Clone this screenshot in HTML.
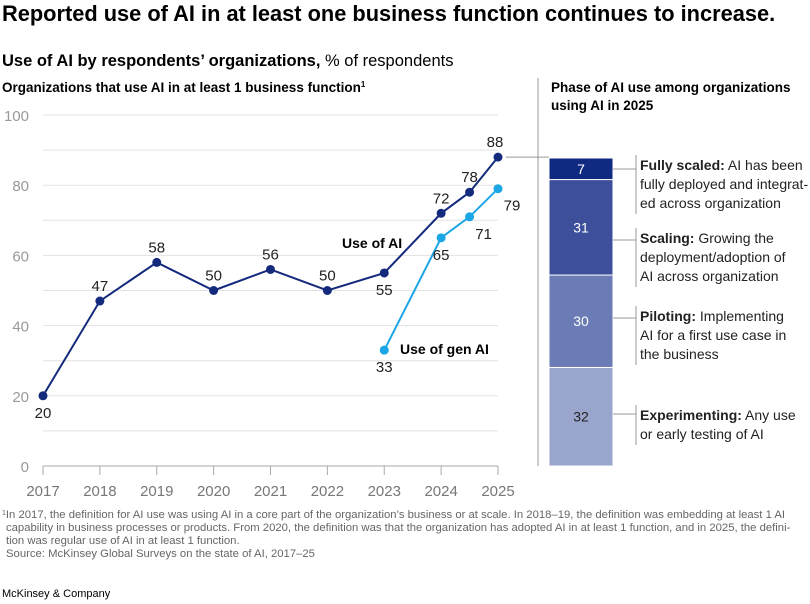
<!DOCTYPE html>
<html><head><meta charset="utf-8"><style>
body{margin:0;background:#fff;font-family:"Liberation Sans",sans-serif;}
svg{display:block}
</style></head><body>
<svg width="810" height="604" xmlns="http://www.w3.org/2000/svg" font-family="Liberation Sans, sans-serif">
<text x="2" y="21" font-size="21.8" font-weight="bold" fill="#000">Reported use of AI in at least one business function continues to increase.</text>
<text x="2" y="66" font-size="16.5" fill="#000"><tspan font-weight="bold">Use of AI by respondents’ organizations,</tspan> % of respondents</text>
<text x="2" y="92" font-size="13.5" font-weight="bold" fill="#000">Organizations that use AI in at least 1 business function<tspan font-size="8" dy="-5">1</tspan></text>
<text x="551" y="92" font-size="13.5" font-weight="bold" fill="#000">Phase of AI use among organizations</text>
<text x="551" y="110" font-size="13.5" font-weight="bold" fill="#000">using AI in 2025</text>
<line x1="538" y1="78" x2="538" y2="466" stroke="#999" stroke-width="1"/>
<g id="grid"></g>
<g id="lines"></g>
<g id="bar"></g>
<text x="342" y="248" font-size="14" font-weight="bold">Use of AI</text>
<text x="400" y="354" font-size="14" font-weight="bold">Use of gen AI</text>
<g font-size="11.3" fill="#666">
<text x="2" y="518"><tspan font-size="7" dy="-3">1</tspan><tspan dy="3">In 2017, the definition for AI use was using AI in a core part of the organization’s business or at scale. In 2018–19, the definition was embedding at least 1 AI</tspan></text>
<text x="6" y="531">capability in business processes or products. From 2020, the definition was that the organization has adopted AI in at least 1 function, and in 2025, the defini-</text>
<text x="6" y="544">tion was regular use of AI in at least 1 function.</text>
<text x="6" y="557">Source: McKinsey Global Surveys on the state of AI, 2017–25</text>
</g>
<text x="2" y="597" font-size="11" fill="#000">McKinsey &amp; Company</text>
</svg>
<script>
const years=[2017,2018,2019,2020,2021,2022,2023,2024,2025];
const aiX=[2017,2018,2019,2020,2021,2022,2023,2024,2024.5,2025];
const aiVals=[20,47,58,50,56,50,55,72,78,88];
const genX=[2023,2024,2024.5,2025];
const genVals=[33,65,71,79];
const yTicks=[0,20,40,60,80,100];
const phases=["Experimenting","Piloting","Scaling","Fully scaled"];
const phaseVals=[32,30,31,7];
const NS="http://www.w3.org/2000/svg";
const xs=v=>43+(v-2017)*56.875;
const ys=v=>466-v*3.51;
function el(t,a,p){const e=document.createElementNS(NS,t);for(const k in a)e.setAttribute(k,a[k]);p.appendChild(e);return e;}
const grid=document.getElementById('grid');
for(let v=10;v<=100;v+=10){const l=el('line',{x1:43,x2:498,y1:ys(v),y2:ys(v),stroke:'#e2e2e2','stroke-width':1},grid);

}
const base=el('line',{x1:43,x2:498,y1:466,y2:466,stroke:'#aaa'},grid);


yTicks.forEach(v=>{const t=el('text',{x:29,y:ys(v)+6,'font-size':15,fill:'#999','text-anchor':'end'},grid);t.textContent=v;

});
years.forEach(y=>{const tk=el('line',{x1:xs(y),x2:xs(y),y1:466,y2:475,stroke:'#aaa'},grid);


const t=el('text',{x:xs(y),y:496,'font-size':15,fill:'#777','text-anchor':'middle'},grid);t.textContent=y;

});
const lg=document.getElementById('lines');
function series(xv,vals,color,name,offs){
 const p=el('polyline',{points:xv.map((x,i)=>xs(x)+','+ys(vals[i])).join(' '),fill:'none',stroke:color,'stroke-width':2},lg);
 
 
 xv.forEach((x,i)=>{const c=el('circle',{cx:xs(x),cy:ys(vals[i]),r:4.5,fill:color},lg);
 
 
 const o=offs[i];const t=el('text',{x:xs(x)+o[0],y:ys(vals[i])+o[1],'font-size':15,fill:'#222','text-anchor':'middle'},lg);t.textContent=vals[i];
 
 });
}
const U=[0,-10],D=[0,22];
series(aiX,aiVals,'#142a7d','ai',[D,U,U,U,U,U,D,U,U,[-3,-10]]);
series(genX,genVals,'#1ba6e6','gen-ai',[D,D,[14,22],[14,22]]);
const cn=el('line',{x1:xs(2025)+8,x2:549,y1:ys(88),y2:ys(88),stroke:'#999'},lg);


const bg=document.getElementById('bar');
const colors=['#9aa5cd','#6b7bb5','#3d4f9b','#0f2a80'];
const total=phaseVals.reduce((a,b)=>a+b,0);
const H=308, by=466;
const legend=[
 [["Experimenting:"," Any use"],["or early testing of AI"]],
 [["Piloting:"," Implementing"],["AI for a first use case in"],["the business"]],
 [["Scaling:"," Growing the"],["deployment/adoption of"],["AI across organization"]],
 [["Fully scaled:"," AI has been"],["fully deployed and integrat-"],["ed across organization"]]];
const legendTop=[405,306,228,155];
const leaderY=[414,318,240,169];
let cum=0;
phaseVals.forEach((v,i)=>{
 const h=v/total*H, y0=by-(cum+v)/total*H; cum+=v;
 const r=el('rect',{x:549,y:y0,width:64,height:h,fill:colors[i],stroke:'#fff','stroke-width':1},bg);
 
 
 const t=el('text',{x:581,y:y0+h/2+5,'font-size':14,fill:i==0?'#222':'#fff','text-anchor':'middle'},bg);t.textContent=v;
 
 
 const lines=legend[i], n=lines.length, top=legendTop[i], cy=leaderY[i];
 const hl=el('line',{x1:613,x2:636,y1:cy,y2:cy,stroke:'#999'},bg);
 
 
 const vl=el('line',{x1:636,x2:636,y1:top,y2:top+n*19+2,stroke:'#999'},bg);
 
 
 lines.forEach((ln,j)=>{const t2=el('text',{x:640,y:top+15+j*19,'font-size':14,fill:'#222'},bg);
  
  
  if(ln.length>1){const b=el('tspan',{'font-weight':'bold'},t2);b.textContent=ln[0];const s=el('tspan',{},t2);s.textContent=ln[1];}
  else t2.textContent=ln[0];});
});
</script>
</body></html>
